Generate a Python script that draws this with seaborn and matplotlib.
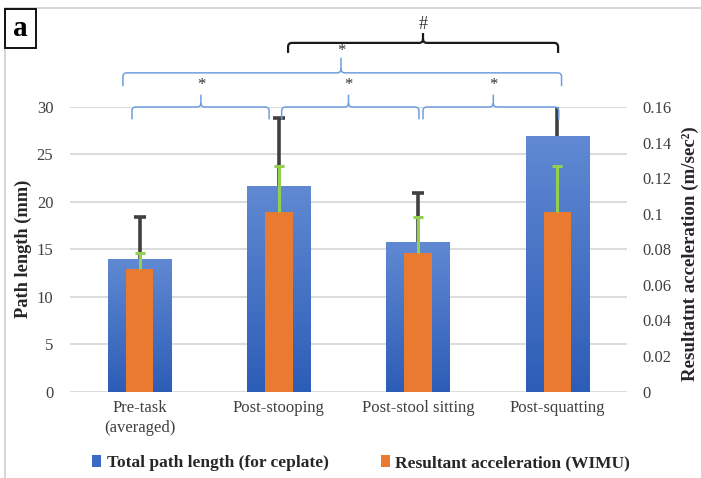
import numpy as np
import pandas as pd
import matplotlib
matplotlib.use("Agg")
import matplotlib.pyplot as plt
import seaborn as sns
from matplotlib.path import Path
from matplotlib.patches import PathPatch, Rectangle, Patch
from matplotlib.colors import LinearSegmentedColormap

# ---------------- data ----------------
categories = ["Pre-task\n(averaged)", "Post-stooping", "Post-stool sitting", "Post-squatting"]
path_length = [14.0, 21.7, 15.8, 26.95]          # mm (left axis)
path_length_err = [4.4, 7.1, 5.1, 3.6]
acceleration = [0.069, 0.101, 0.078, 0.101]      # m/sec^2 (right axis)
acceleration_err = [0.009, 0.026, 0.020, 0.026]
left_ticks = [0, 5, 10, 15, 20, 25, 30]
right_ticks = [0, 0.02, 0.04, 0.06, 0.08, 0.1, 0.12, 0.14, 0.16]
right_tick_labels = ["0", "0.02", "0.04", "0.06", "0.08", "0.1", "0.12", "0.14", "0.16"]
series_names = ["Total path length (for ceplate)", "Resultant acceleration (WIMU)"]

# brackets: (x_start, x_end, x_center, label, level)
brackets = [
    (1.066, 3.005, 2.035, "#", "black"),
    (-0.12, 3.03, 1.446, "*", "big"),
    (-0.055, 0.93, 0.44, "*", "small"),
    (1.02, 2.006, 1.50, "*", "small"),
    (2.035, 3.01, 2.54, "*", "small"),
]

# ---------------- style ----------------
sns.set_theme(style="white")
plt.rcParams["font.family"] = ["Liberation Serif", "DejaVu Serif"]

BLUE_TOP = "#6189d3"
BLUE_BOT = "#2c5db6"
ORANGE = "#e97a30"
GREY_ERR = "#404040"
GREEN_ERR = "#92d050"
GRID = "#d9d9d9"
BRACE_BLUE = "#6f9ede"

fig = plt.figure(figsize=(7.01, 4.78), dpi=100)
ax1 = fig.add_axes([70 / 701, 1 - 391.5 / 478, (627 - 70) / 701, (391.5 - 107) / 478])

df = pd.DataFrame({"cat": categories, "path": path_length, "acc": acceleration})

sns.barplot(data=df, x="cat", y="path", ax=ax1, color=BLUE_BOT, width=0.455,
            errorbar=None, saturation=1, linewidth=0, edgecolor="none", zorder=2)
ax1.set_ylim(0, 30)
ax1.set_xlim(-0.5, 3.5)

# gradient fill on blue bars
cmap = LinearSegmentedColormap.from_list("bl", [BLUE_BOT, BLUE_TOP])
grad = np.linspace(0, 1, 256).reshape(-1, 1)
for p in list(ax1.patches):
    x0, w, h = p.get_x(), p.get_width(), p.get_height()
    im = ax1.imshow(grad, extent=[x0, x0 + w, 0, h], origin="lower", aspect="auto",
                    cmap=cmap, zorder=2.5)
    im.set_clip_path(p)
ax1.set_ylim(0, 30)
ax1.set_xlim(-0.5, 3.5)


def upper_errorbar(ax, x, y, err, color, lw, cap):
    cont = ax.errorbar(x, y, yerr=[np.zeros(len(err)), err], fmt="none",
                       ecolor=color, elinewidth=lw, capsize=cap, capthick=lw, zorder=3)
    for cl in cont[1]:
        if np.allclose(np.asarray(cl.get_ydata(), float), np.asarray(y, float)):
            cl.set_visible(False)
    return cont


xpos = np.arange(len(categories))
upper_errorbar(ax1, xpos, path_length, path_length_err, GREY_ERR, 2.6, 4.5)

ax1.set_yticks(left_ticks)
ax1.yaxis.grid(True, color=GRID, linewidth=1.3, zorder=0)
ax1.set_axisbelow(True)
for s in ax1.spines.values():
    s.set_visible(False)
ax1.tick_params(axis="y", length=0, pad=12, labelsize=12, colors="#404040")
ax1.tick_params(axis="x", length=0, pad=6, labelsize=12, colors="#404040")
ax1.set_xlabel("")
ax1.set_ylabel("Path length (mm)", fontsize=13.2, fontweight="bold")
ax1.yaxis.set_label_coords((23 - 70) / 557, (391.5 - 248.5) / 284.5)
ax1.yaxis.label.set_va("center")
ax1.yaxis.label.set_ha("center")
for lab in ax1.get_xticklabels():
    lab.set_linespacing(1.35)

ax2 = ax1.twinx()
sns.barplot(data=df, x="cat", y="acc", ax=ax2, color=ORANGE, width=0.197,
            errorbar=None, saturation=1, linewidth=0, edgecolor="none", zorder=2)
upper_errorbar(ax2, xpos, acceleration, acceleration_err, GREEN_ERR, 2.2, 3.5)
ax2.set_ylim(0, 0.16)
ax2.set_xlim(-0.5, 3.5)
ax2.set_yticks(right_ticks)
ax2.set_yticklabels(right_tick_labels)
ax2.tick_params(axis="y", length=0, pad=11, labelsize=12, colors="#404040")
for s in ax2.spines.values():
    s.set_visible(False)
ax2.grid(False)
ax2.set_xlabel("")
ax2.set_ylabel("Resultatnt acceleration (m/sec²)", fontsize=13.6, fontweight="bold")
ax2.yaxis.set_label_coords((690 - 70) / 557, (391.5 - 254) / 284.5)
ax2.yaxis.label.set_va("center")
ax2.yaxis.label.set_ha("center")

# ---------------- brackets ----------------
px_x = 139.25   # px per category unit
px_y = 9.48     # px per mm


def brace(x0, x1, xc, yh, ye, yt, color, lw):
    rx, ry = 4 / px_x, 4 / px_y
    verts = [(x0, ye), (x0, yh - ry), (x0, yh), (x0 + rx, yh), (xc - rx, yh),
             (xc, yh), (xc, yh + ry), (xc, yt),
             (xc, yh + ry), (xc, yh), (xc + rx, yh), (x1 - rx, yh),
             (x1, yh), (x1, yh - ry), (x1, ye)]
    codes = [Path.MOVETO, Path.LINETO, Path.CURVE3, Path.CURVE3, Path.LINETO,
             Path.CURVE3, Path.CURVE3, Path.LINETO,
             Path.MOVETO, Path.CURVE3, Path.CURVE3, Path.LINETO,
             Path.CURVE3, Path.CURVE3, Path.LINETO]
    pp = PathPatch(Path(verts, codes), fill=False, edgecolor=color, linewidth=lw,
                   transform=ax1.transData, clip_on=False, zorder=5)
    ax1.add_patch(pp)


levels = {
    "black": dict(yh=36.76, ye=35.7, yt=37.8, ys=37.85, color="#1a1a1a", lw=1.6, fs=13),
    "big": dict(yh=33.6, ye=32.2, yt=35.2, ys=35.1, color=BRACE_BLUE, lw=1.1, fs=12),
    "small": dict(yh=30.0, ye=28.7, yt=31.3, ys=31.5, color=BRACE_BLUE, lw=1.1, fs=12),
}
for x0, x1, xc, lab, lev in brackets:
    L = levels[lev]
    brace(x0, x1, xc, L["yh"], L["ye"], L["yt"], L["color"], L["lw"])
    ax1.text(xc, L["ys"], lab, ha="center", va="bottom", fontsize=L["fs"],
             color="#333333", clip_on=False, zorder=6)

# ---------------- legend ----------------
handles = [Patch(facecolor="#3a6bc4", edgecolor="none"), Patch(facecolor=ORANGE, edgecolor="none")]
fig.legend(handles, series_names, loc="center", bbox_to_anchor=(0.515, 1 - 463 / 478),
           ncol=2, frameon=False, handlelength=0.55, handleheight=0.7, handletextpad=0.3,
           columnspacing=3.0, prop={"weight": "bold", "size": 12.5})

# ---------------- frame and panel label ----------------
fig.patches.append(Rectangle((5 / 701, -0.05), 1.2, 1 - 8 / 478 + 0.05,
                             transform=fig.transFigure, fill=False,
                             edgecolor="#cfcfcf", linewidth=1.2, zorder=0))
fig.patches.append(Rectangle((5 / 701, 1 - 48 / 478), 31 / 701, 39 / 478,
                             transform=fig.transFigure, facecolor="white",
                             edgecolor="black", linewidth=1.3, zorder=5))
fig.text(20.5 / 701, 1 - 29 / 478, "a", ha="center", va="center", fontsize=21,
         fontweight="bold", color="black", zorder=6)

fig.savefig("out.png", dpi=100)
